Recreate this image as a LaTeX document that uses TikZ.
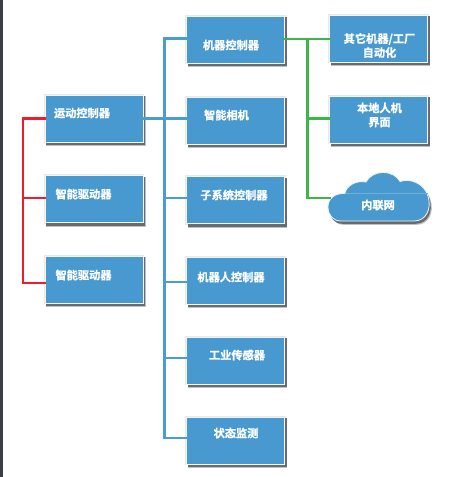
\documentclass[tikz,border=0pt]{standalone}
\usepackage{fontspec}
\newfontfamily\cnbold{Noto Sans CJK SC Bold}[RawFeature={embolden=1.0}]
\usetikzlibrary{backgrounds}
\definecolor{boxblue}{HTML}{4799CF}
\definecolor{linkblue}{HTML}{4B9CD0}
\definecolor{linkred}{HTML}{EE1C2C}
\definecolor{linkgreen}{HTML}{3DB54A}
\definecolor{strip}{HTML}{3B3F43}
\newcommand{\cloudoutline}{(341,221)
  .. controls (333,221) and (328,215) .. (328,207)
  .. controls (328,199) and (334,193) .. (345,193.5)
  .. controls (346,186) and (356,180) .. (366,182)
  .. controls (369,176) and (376,172.5) .. (383,172.5)
  .. controls (391,172.5) and (397,176) .. (400,181.5)
  .. controls (410,178) and (424,183) .. (428,196)
  .. controls (432,209) and (426,221) .. (414,221)
  -- cycle}
\tikzset{
  x=1pt,y=-1pt,
  boxnode/.style={rectangle,fill=boxblue,draw=white!92!boxblue,line width=.8pt,
    minimum width=98pt,minimum height=47pt,inner sep=0pt,outer sep=0pt},
  cloudshape/.style={fill=boxblue,draw=white!92!boxblue,line width=.8pt},
  txt/.style={text=white,font=\cnbold\fontsize{11.2}{14}\selectfont,align=center,inner sep=0pt},
  link/.style={line width=2.7pt,line cap=rect},
  red link/.style={link,draw=linkred},
  blue link/.style={link,draw=linkblue},
  green link/.style={link,draw=linkgreen},
  glow/.style={fill=black!9},
  shade far/.style={fill=black!25},
  shade near/.style={fill=black!58},
}
\begin{document}
\begin{tikzpicture}
\useasboundingbox (0,0) rectangle (451,477);

\node[boxnode] (m) at (94,118.5) {};
\node[boxnode] (d1) at (94,199) {};
\node[boxnode] (d2) at (94,279.5) {};
\node[boxnode] (c1) at (235.5,39.5) {};
\node[boxnode] (c2) at (235.5,120.5) {};
\node[boxnode] (c3) at (235.5,200) {};
\node[boxnode] (c4) at (235.5,280.5) {};
\node[boxnode] (c5) at (235.5,360.5) {};
\node[boxnode] (c6) at (235.5,440.5) {};
\node[boxnode] (r1) at (378.5,38.5) {};
\node[boxnode] (r2) at (378.5,119.5) {};

\begin{pgfonlayer}{background}
\fill[white] (0,0) rectangle (451,477);
\fill[strip] (0,0) rectangle (3,477);
\foreach \n in {m,d1,d2,c1,c2,c3,c4,c5,c6,r1,r2}{
  \fill[glow] ([xshift=-1.4pt,yshift=1.4pt]\n.north west) rectangle ([xshift=1.4pt,yshift=-1.4pt]\n.south east);
  \fill[shade far] ([xshift=1pt,yshift=-1pt]\n.north west) rectangle ([xshift=2.8pt,yshift=-4pt]\n.south east);
  \fill[shade near] ([xshift=1pt,yshift=-1pt]\n.north west) rectangle ([xshift=2pt,yshift=-3pt]\n.south east);
}
\fill[shade far,shift={(2.6,3.8)}] \cloudoutline;
\fill[shade near,shift={(1.6,2.8)}] \cloudoutline;
\end{pgfonlayer}

% cloud
\path[cloudshape] \cloudoutline;
\draw[white!22!boxblue,line width=.4pt] (345,193.3) -- (428,193.3);

% free ends and branch points
\coordinate (redbus) at (23,118.5);
\coordinate (red1) at (23,198);
\coordinate (red2) at (23,283);
\coordinate (bluebus) at (164.5,38.5);
\coordinate (blue3) at (164.5,198);
\coordinate (blue4) at (164.5,282);
\coordinate (blue5) at (164.5,358);
\coordinate (blue6) at (164.5,438);
\coordinate (greenbus) at (307.5,39);
\coordinate (green2) at (307.5,118.5);
\coordinate (green3) at (307.5,198);
\coordinate (cloudport) at (330,198);

% red
\draw[red link] (m.west) -- (redbus) -- (red2) -- (d2.west |- red2);
\draw[red link] (red1) -- (d1.west |- red1);

% blue
\draw[blue link] (m.east) -- (c2.west |- m.east);
\draw[blue link] (c1.west |- bluebus) -- (bluebus) -- (blue6) -- (c6.west |- blue6);
\draw[blue link] (blue3) -- (c3.west |- blue3);
\draw[blue link] (blue4) -- (c4.west |- blue4);
\draw[blue link] (blue5) -- (c5.west |- blue5);

% green
\draw[green link] (c1.east |- greenbus) -- (r1.west |- greenbus);
\draw[green link] (greenbus) -- (green3) -- (cloudport);
\draw[green link] (green2) -- (r2.west |- green2);

% texts
\node[txt] (tm) at (82,113) {运动控制器};
\node[txt] (td1) at (83.5,194) {智能驱动器};
\node[txt] (td2) at (83.5,275) {智能驱动器};
\node[txt] (tc1) at (231,45) {机器控制器};
\node[txt] (tc2) at (226.5,115) {智能相机};
\node[txt] (tc3) at (234,195) {子系统控制器};
\node[txt] (tc4) at (231,277) {机器人控制器};
\node[txt] (tc5) at (237,355) {工业传感器};
\node[txt] (tc6) at (236,433) {状态监测};
\node[txt] (tr1) at (379.5,45.5) {其它机器/工厂\\自动化};
\node[txt] (tr2) at (379.5,115) {本地人机\\界面};
\node[txt] (tcl) at (378,205) {内联网};
\end{tikzpicture}
\end{document}
